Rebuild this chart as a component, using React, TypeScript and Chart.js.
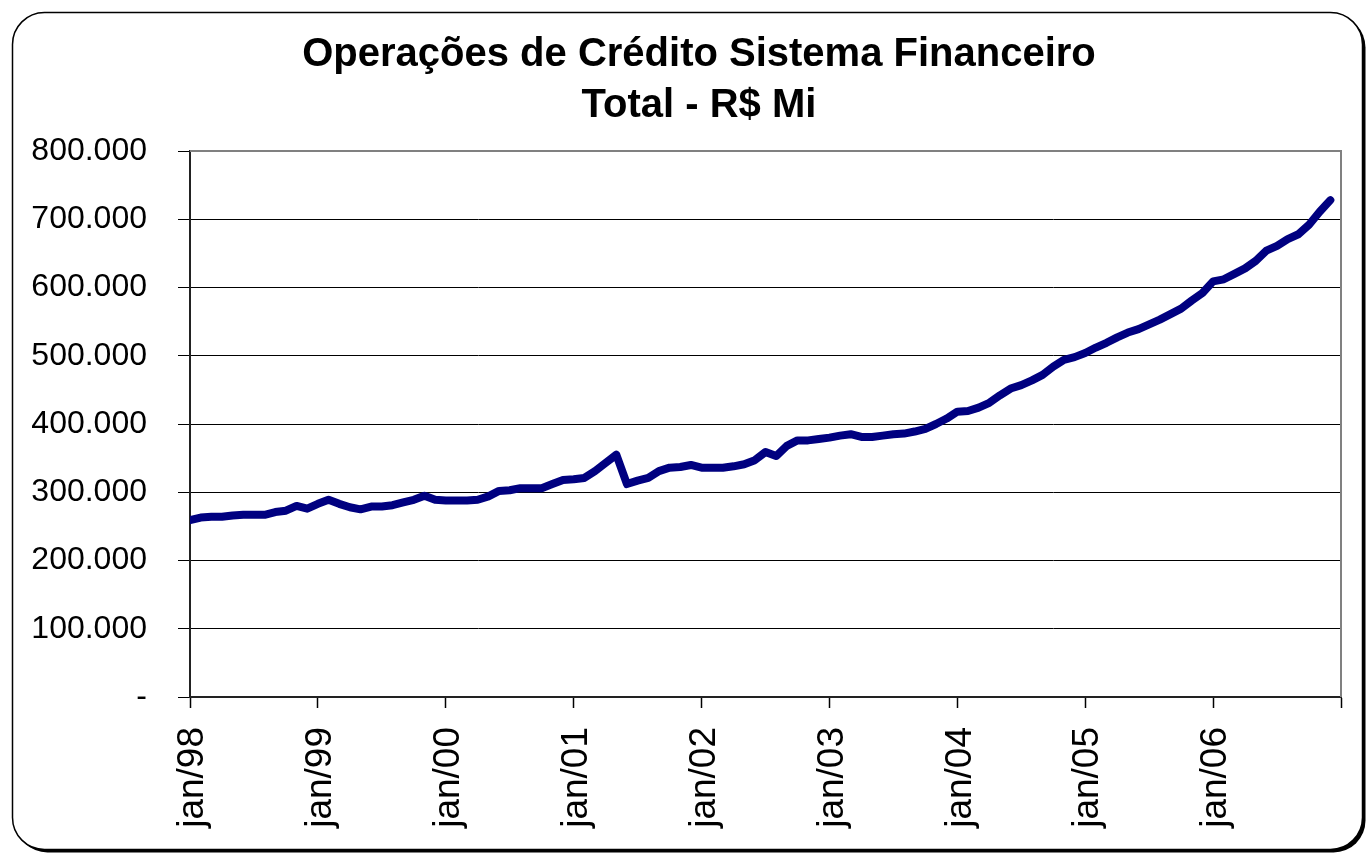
import React, { useEffect, useRef } from "react";
import { Chart, registerables } from "chart.js";

Chart.register(...registerables);

const TITLE_LINES = ["Operações de Crédito Sistema Financeiro", "Total - R$ Mi"];

// Tick labels, one per year (every 12 months starting jan/98)
const YEAR_TICKS = ["jan/98", "jan/99", "jan/00", "jan/01", "jan/02", "jan/03", "jan/04", "jan/05", "jan/06"];

// Monthly credit volume, R$ Mi, jan/98 .. dez/06
const CREDIT_1998 = [259000, 263000, 264000, 264000, 266000, 267000, 267000, 267000, 271000, 273000, 280000, 276000];
const CREDIT_1999 = [283000, 289000, 283000, 278000, 275000, 279000, 279000, 281000, 285000, 289000, 295000, 289000];
const CREDIT_2000 = [288000, 288000, 288000, 289000, 294000, 302000, 303000, 306000, 306000, 306000, 312000, 318000];
const CREDIT_2001 = [319000, 321000, 331000, 343000, 355000, 312000, 317000, 321000, 331000, 336000, 337000, 340000];
const CREDIT_2002 = [336000, 336000, 336000, 338000, 341000, 347000, 359000, 353000, 368000, 376000, 376000, 378000];
const CREDIT_2003 = [380000, 383000, 385000, 381000, 381000, 383000, 385000, 386000, 389000, 393000, 400000, 408000];
const CREDIT_2004 = [418000, 419000, 424000, 431000, 442000, 452000, 457000, 464000, 472000, 484000, 494000, 498000];
const CREDIT_2005 = [504000, 512000, 519000, 527000, 534000, 539000, 546000, 553000, 561000, 569000, 581000, 592000];
const CREDIT_2006 = [609000, 612000, 620000, 628000, 639000, 654000, 661000, 671000, 678000, 692000, 711000, 728000];

const SERIES = [
  ...CREDIT_1998, ...CREDIT_1999, ...CREDIT_2000, ...CREDIT_2001, ...CREDIT_2002,
  ...CREDIT_2003, ...CREDIT_2004, ...CREDIT_2005, ...CREDIT_2006,
];

const Y_MIN = 0;
const Y_MAX = 800000;
const Y_STEP = 100000;
const MONTHS_PER_TICK = 12;

const FONT = "'Liberation Sans', Arial, sans-serif";

function fmt(v: number): string {
  if (v === 0) return "-";
  return Math.round(v).toString().replace(/\B(?=(\d{3})+(?!\d))/g, ".");
}

function roundRect(ctx: CanvasRenderingContext2D, x: number, y: number, w: number, h: number, r: number) {
  ctx.beginPath();
  ctx.moveTo(x + r, y);
  ctx.lineTo(x + w - r, y);
  ctx.arcTo(x + w, y, x + w, y + r, r);
  ctx.lineTo(x + w, y + h - r);
  ctx.arcTo(x + w, y + h, x + w - r, y + h, r);
  ctx.lineTo(x + r, y + h);
  ctx.arcTo(x, y + h, x, y + h - r, r);
  ctx.lineTo(x, y + r);
  ctx.arcTo(x, y, x + r, y, r);
  ctx.closePath();
}

const framePlugin = {
  id: "frame",
  beforeDraw(chart: any) {
    const ctx: CanvasRenderingContext2D = chart.ctx;
    ctx.save();
    ctx.fillStyle = "#ffffff";
    ctx.fillRect(0, 0, chart.width, chart.height);
    // shadow
    ctx.fillStyle = "#000000";
    roundRect(ctx, 15.5, 15.5, 1350, 837, 32);
    ctx.fill();
    // panel
    ctx.fillStyle = "#ffffff";
    roundRect(ctx, 12.5, 12.5, 1350, 837, 32);
    ctx.fill();
    ctx.lineWidth = 1.5;
    ctx.strokeStyle = "#000000";
    ctx.stroke();
    // title
    ctx.fillStyle = "#000000";
    ctx.font = `bold 40px ${FONT}`;
    ctx.textBaseline = "alphabetic";
    ctx.textAlign = "center";
    const cx = 699;
    const baselines = [66, 117];
    TITLE_LINES.forEach((line, i) => {
      ctx.fillText(line, cx, baselines[i]);
    });
    ctx.restore();
  },
  beforeDatasetsDraw(chart: any) {
    const { ctx, chartArea } = chart;
    ctx.save();
    ctx.strokeStyle = "#808080";
    ctx.lineWidth = 2;
    ctx.beginPath();
    ctx.moveTo(chartArea.left, chartArea.top);
    ctx.lineTo(chartArea.right, chartArea.top);
    ctx.lineTo(chartArea.right, chartArea.bottom);
    ctx.stroke();
    ctx.restore();
  },
};

export default function App() {
  const ref = useRef<HTMLCanvasElement | null>(null);

  useEffect(() => {
    if (!ref.current) return;
    const data = SERIES.map((v, i) => ({ x: i, y: v }));
    const chart = new Chart(ref.current, {
      type: "line",
      data: {
        datasets: [
          {
            label: "Total - R$ Mi",
            data,
            borderColor: "#000080",
            backgroundColor: "#000080",
            borderWidth: 8,
            pointRadius: 0,
            tension: 0,
            borderCapStyle: "round",
            borderJoinStyle: "round",
            fill: false,
          },
        ],
      },
      plugins: [framePlugin],
      options: {
        animation: false,
        responsive: false,
        devicePixelRatio: 1,
        layout: { padding: { left: 0, top: 151, right: 27, bottom: 0 } },
        plugins: {
          legend: { display: false },
          title: { display: false },
          tooltip: { enabled: false },
        },
        scales: {
          x: {
            type: "linear",
            min: 0,
            max: YEAR_TICKS.length * MONTHS_PER_TICK,
            afterFit: (s: any) => {
              s.height = 159;
              s.paddingLeft = 0;
              s.paddingRight = 0;
            },
            afterBuildTicks: (s: any) => {
              const t = [];
              for (let v = 0; v <= YEAR_TICKS.length * MONTHS_PER_TICK; v += MONTHS_PER_TICK) t.push({ value: v });
              s.ticks = t;
            },
            ticks: {
              autoSkip: false,
              maxRotation: 90,
              minRotation: 90,
              padding: 19,
              labelOffset: 3,
              color: "#000",
              font: { family: FONT, size: 37 },
              callback: (v: any) => {
                const idx = Math.round(Number(v) / MONTHS_PER_TICK);
                return idx < YEAR_TICKS.length ? YEAR_TICKS[idx] : "";
              },
            },
            grid: {
              drawOnChartArea: false,
              drawTicks: true,
              tickLength: 11,
              tickColor: "#000",
              tickWidth: 1.5,
            },
            border: { display: true, color: "#222", width: 2 },
          },
          y: {
            min: Y_MIN,
            max: Y_MAX,
            afterFit: (s: any) => {
              s.width = 190;
              s.paddingTop = 0;
              s.paddingBottom = 0;
            },
            ticks: {
              stepSize: Y_STEP,
              padding: 31,
              color: "#000",
              font: { family: FONT, size: 32 },
              callback: (v: any) => fmt(Number(v)),
            },
            grid: {
              color: "#000",
              lineWidth: 1,
              drawTicks: true,
              tickLength: 12,
              tickColor: "#000",
            },
            border: { display: true, color: "#222", width: 2 },
          },
        },
      },
    });
    return () => chart.destroy();
  }, []);

  return (
    <div style={{ position: "absolute", left: 0, top: 0, width: 1368, height: 856 }}>
      <canvas ref={ref} width={1368} height={856} style={{ display: "block" }} />
    </div>
  );
}
